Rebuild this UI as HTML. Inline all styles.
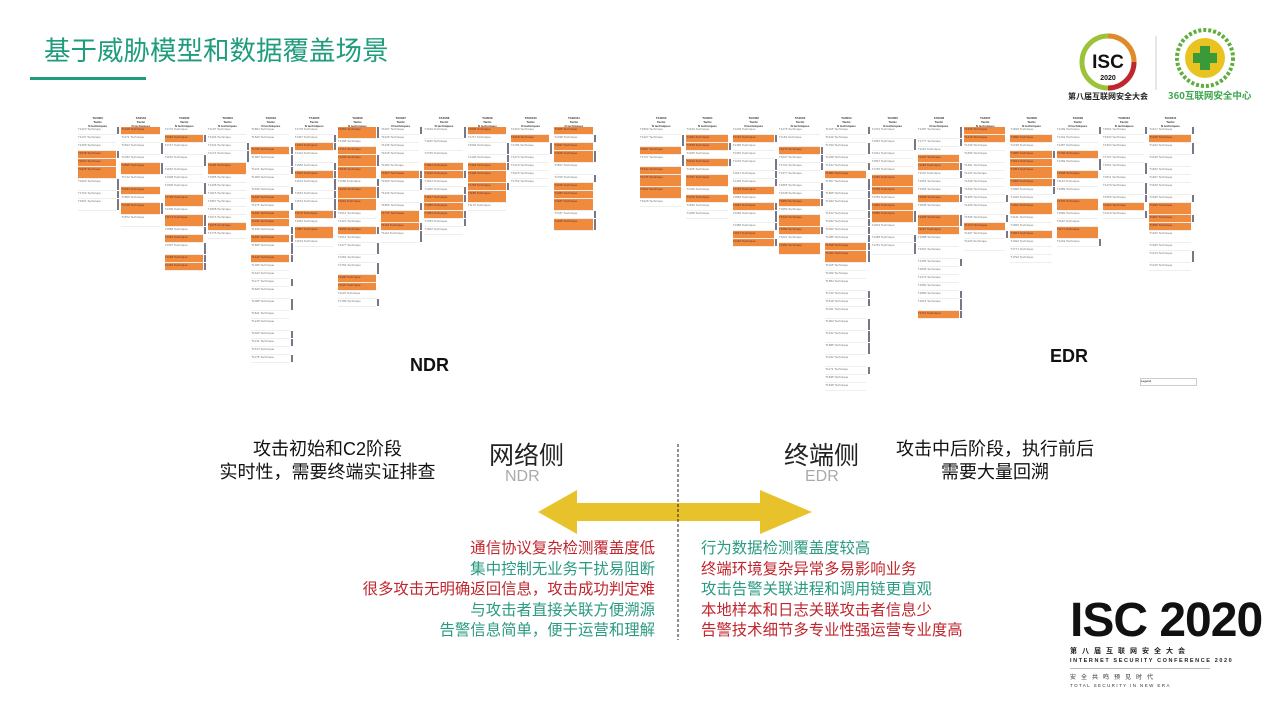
<!DOCTYPE html>
<html><head><meta charset="utf-8">
<style>
body{margin:0;width:1280px;height:720px;background:#fff;position:relative;overflow:hidden;font-family:"Liberation Sans","Noto Sans CJK SC",sans-serif}
.a{position:absolute;white-space:nowrap}
.cell{position:absolute;height:7px;font-size:3px;color:#777;overflow:hidden;border-bottom:1px solid #eee}
.cell.o{background:#f08a3c;color:#633}
.hd{position:absolute;font-size:3px;color:#333;text-align:center;font-weight:bold}
.sb{position:absolute;width:2px;background:#778}
</style></head><body>
<div class="a" style="left:44px;top:29px;font-size:26.5px;color:#1f9c7e">基于威胁模型和数据覆盖场景</div>
<div class="a" style="left:30px;top:77px;width:116px;height:3px;background:#1f9c7e"></div>

<svg class="a" style="left:1068px;top:28px" width="200" height="76">
<circle cx="40" cy="34" r="26" fill="none" stroke="#9cc23a" stroke-width="5"/>
<path d="M40 8 A26 26 0 0 1 66 34" fill="none" stroke="#e08a2a" stroke-width="5"/>
<path d="M66 34 A26 26 0 0 1 40 60" fill="none" stroke="#c0262d" stroke-width="5"/>
<text x="40" y="40" font-family="Liberation Sans" font-weight="bold" font-size="19" text-anchor="middle" fill="#111">ISC</text>
<text x="40" y="52" font-family="Liberation Sans" font-weight="bold" font-size="7" text-anchor="middle" fill="#111">2020</text>
<line x1="88" y1="8" x2="88" y2="62" stroke="#ccc"/>
<circle cx="137" cy="30" r="28" fill="none" stroke="#5fae3a" stroke-width="4" stroke-dasharray="3 2"/>
<circle cx="137" cy="30" r="20" fill="#e9c420"/>
<rect x="132" y="18" width="10" height="24" fill="#3a9a3a"/><rect x="125" y="25" width="24" height="10" fill="#3a9a3a"/>
<text x="0" y="71" font-family="Noto Sans CJK SC" font-weight="bold" font-size="8" fill="#222">第八届互联网安全大会</text>
<text x="100" y="71" font-family="Noto Sans CJK SC" font-weight="bold" font-size="9.5" fill="#3aa54a">360互联网安全中心</text>
</svg>

<div id="ndr" class="a" style="left:78px;top:116px;width:520px;height:262px"></div>
<div id="edr" class="a" style="left:640px;top:116px;width:556px;height:270px"></div>
<div class="a" style="left:1140px;top:378px;width:55px;height:6px;border:1px solid #ccc;font-size:3px">Legend</div>
<div class="a" style="left:410px;top:355px;font-size:18px;font-weight:bold;color:#111">NDR</div>
<div class="a" style="left:1050px;top:346px;font-size:18px;font-weight:bold;color:#111">EDR</div>

<div class="a" style="left:200px;top:438px;width:255px;text-align:center;font-size:18px;line-height:23px;color:#111">攻击初始和C2阶段<br>实时性，需要终端实证排查</div>
<div class="a" style="left:880px;top:438px;width:230px;text-align:center;font-size:18px;line-height:23px;color:#111">攻击中后阶段，执行前后<br>需要大量回溯</div>
<div class="a" style="left:489px;top:436px;font-size:25px;color:#222">网络侧</div>
<div class="a" style="left:505px;top:468px;font-size:16px;color:#aaa">NDR</div>
<div class="a" style="left:784px;top:436px;font-size:25px;color:#222">终端侧</div>
<div class="a" style="left:805px;top:468px;font-size:16px;color:#aaa">EDR</div>

<svg class="a" style="left:0;top:0" width="1280" height="720">
<polygon points="538,512 577,490 577,503 760,503 760,490 812,512 760,534 760,521 577,521 577,534" fill="#e8c22a"/>
<line x1="678" y1="444" x2="678" y2="640" stroke="#222" stroke-dasharray="3 2"/>
</svg>

<div class="a" style="left:300px;top:539px;width:355px;text-align:right;font-size:15.4px;line-height:20.5px">
<div style="color:#c0262d">通信协议复杂检测覆盖度低</div>
<div style="color:#2a9a82">集中控制无业务干扰易阻断</div>
<div style="color:#c0262d">很多攻击无明确返回信息，攻击成功判定难</div>
<div style="color:#2a9a82">与攻击者直接关联方便溯源</div>
<div style="color:#2a9a82">告警信息简单，便于运营和理解</div>
</div>
<div class="a" style="left:701px;top:539px;font-size:15.4px;line-height:20.5px">
<div style="color:#2a9a82">行为数据检测覆盖度较高</div>
<div style="color:#c0262d">终端环境复杂异常多易影响业务</div>
<div style="color:#2a9a82">攻击告警关联进程和调用链更直观</div>
<div style="color:#c0262d">本地样本和日志关联攻击者信息少</div>
<div style="color:#c0262d">告警技术细节多专业性强运营专业度高</div>
</div>

<div class="a" style="left:1070px;top:595px;font-size:48px;font-weight:bold;color:#111;letter-spacing:-1px;line-height:52px">ISC 2020</div>
<div class="a" style="left:1070px;top:646px;font-size:7px;font-weight:bold;letter-spacing:5px;color:#222">第八届互联网安全大会</div>
<div class="a" style="left:1070px;top:658px;font-size:5.5px;font-weight:bold;letter-spacing:1.6px;color:#222">INTERNET SECURITY CONFERENCE 2020</div>
<div class="a" style="left:1070px;top:668px;width:140px;height:1px;background:#bbb"></div>
<div class="a" style="left:1070px;top:672px;font-size:6px;letter-spacing:5px;color:#333">安全共鸣预见时代</div>
<div class="a" style="left:1070px;top:683px;font-size:4.5px;letter-spacing:1.4px;color:#333">TOTAL SECURITY IN NEW ERA</div>

<script>
function build(id,colw,bottoms,seed){
 var el=document.getElementById(id);var s=seed;
 function r(){s=(s*9301+49297)%233280;return s/233280;}
 for(var i=0;i<bottoms.length;i++){
  var x=i*colw;
  var h=document.createElement('div');h.className='hd';h.style.left=x+'px';h.style.top='0';h.style.width=(colw-4)+'px';
  h.innerHTML='TA000'+i+'<br>Tactic<br>N techniques';el.appendChild(h);
  var y=11;
  while(y<bottoms[i]){
   var hh=r()<0.3?12:8;
   var c=document.createElement('div');c.className='cell'+(r()<0.35?' o':'');
   c.style.left=x+'px';c.style.top=y+'px';c.style.width=(colw-5)+'px';c.style.height=(hh-1)+'px';
   c.textContent='T1'+Math.floor(r()*900+100)+' Technique';el.appendChild(c);
   if(r()<0.4){var b=document.createElement('div');b.className='sb';b.style.left=(x+colw-4)+'px';b.style.top=y+'px';b.style.height=(hh-1)+'px';el.appendChild(b);}
   y+=hh;
  }
 }
}
build('ndr',43.3,[86,100,155,120,240,130,185,120,115,90,70,115],7);
build('edr',46.3,[90,102,130,135,268,135,200,135,140,125,100,150],13);
</script>
</body></html>
